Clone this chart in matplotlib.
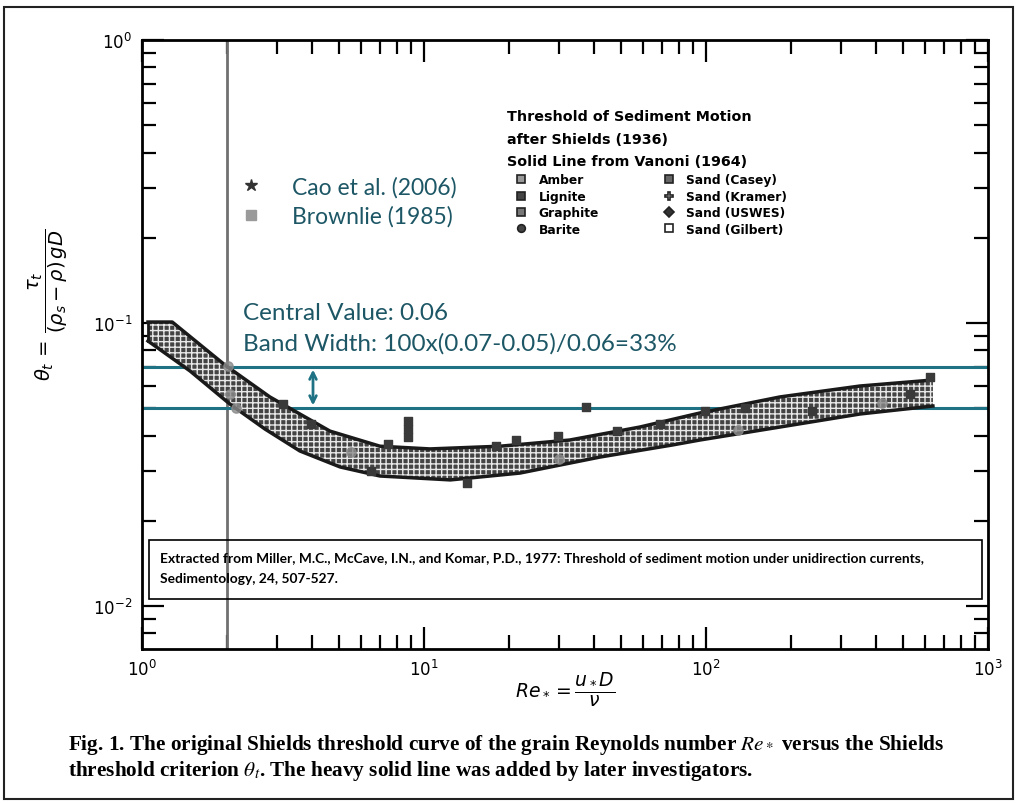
import numpy as np
import matplotlib.pyplot as plt
from matplotlib.patches import Rectangle
from matplotlib.lines import Line2D

# edges of the Shields band
re_up = [1.05, 1.28, 1.97, 2.84, 4.64, 6.98, 10.5, 18.6, 32.9, 58.3, 95.2, 183, 352, 638]
th_up = [0.1008, 0.1008, 0.0710, 0.0548, 0.0415, 0.0367, 0.0359, 0.0367, 0.0386, 0.0429, 0.0481, 0.0548, 0.0599, 0.0629]
re_lo = [1.05, 1.48, 2.05, 2.73, 3.63, 5.04, 6.98, 12.4, 21.9, 42.1, 76.4, 95.2, 183, 352, 638]
th_lo = [0.0864, 0.0677, 0.0517, 0.0422, 0.0353, 0.0310, 0.0288, 0.0279, 0.0295, 0.0336, 0.0371, 0.0386, 0.0429, 0.0477, 0.0509]

# Shields (1936) data points
re_pts = [3.16, 3.98, 7.45, 8.78, 8.78, 8.78, 6.49, 14.2, 18.0, 21.2, 29.9, 37.5, 48.3, 68.7, 99, 137, 238, 529, 623]
th_pts = [0.0517, 0.0440, 0.0374, 0.0451, 0.0422, 0.0395, 0.0300, 0.0272, 0.0367, 0.0386, 0.0399, 0.0505, 0.0415, 0.0440, 0.0489, 0.0500, 0.0489, 0.0561, 0.0645]

# Cao et al. / Brownlie points (grey)
re_grey = [2.02, 2.05, 2.15, 5.5, 30, 130, 420]
th_grey = [0.0703, 0.0561, 0.0500, 0.0350, 0.0330, 0.0420, 0.0520]

central_lo = 0.05
central_hi = 0.07
re_vline = 2.0
re_arrow = 4.04

shields_labels = ['Amber', 'Lignite', 'Graphite', 'Barite',
                  'Sand (Casey)', 'Sand (Kramer)', 'Sand (USWES)', 'Sand (Gilbert)']
shields_markers = ['s', 's', 's', 'o', 's', 'P', 'D', 's']
shields_faces = ['#999999', '#444444', '#777777', '#444444', '#666666', 'white', '#333333', 'white']

teal = '#1f7284'
teal_txt = '#1d5766'

fig = plt.figure(figsize=(10.18, 8.04), dpi=100)
ax = fig.add_axes([0.1395, 0.1915, 0.8310, 0.7575])
ax.set_xscale('log')
ax.set_yscale('log')
ax.set_xlim(1, 1000)
ax.set_ylim(10 ** -2.152, 1)

# band
bx = np.r_[re_up, re_lo[::-1]]
by = np.r_[th_up, th_lo[::-1]]
ax.fill(bx, by, facecolor='#444444', edgecolor='#e8e8e8', hatch='+++', lw=0, zorder=3)
ax.plot(re_up, th_up, color='#1a1a1a', lw=2.5, zorder=4)
ax.plot(re_lo, th_lo, color='#1a1a1a', lw=2.5, zorder=4)
ax.plot([re_up[0], re_lo[0]], [th_up[0], th_lo[0]], color='#1a1a1a', lw=2, zorder=4)

ax.scatter(re_pts, th_pts, marker='s', s=34, color='#3a3a3a', zorder=5)
ax.scatter(re_grey, th_grey, marker='o', s=45, color='#8a8a8a', alpha=0.8, zorder=5)

# added lines
ax.axvline(re_vline, color='#707070', lw=2, zorder=2)
ax.axhline(central_hi, color=teal, lw=2.2, zorder=2)
ax.axhline(central_lo, color=teal, lw=2.2, zorder=2)
ax.annotate('', xy=(re_arrow, central_lo), xytext=(re_arrow, central_hi),
            arrowprops=dict(arrowstyle='<->', color=teal, lw=2, mutation_scale=12), zorder=6)

ax.text(0.119, 0.553, 'Central Value: 0.06', transform=ax.transAxes, color=teal_txt,
        fontsize=17.5, family='Lato', va='center')
ax.text(0.119, 0.502, 'Band Width: 100x(0.07-0.05)/0.06=33%', transform=ax.transAxes,
        color=teal_txt, fontsize=17.5, family='Lato', va='center')

# Shields legend
handles = [Line2D([], [], ls='none', marker=m, mfc=f, mec='#222222', ms=5.5, mew=1.2)
           for m, f in zip(shields_markers, shields_faces)]
leg1 = ax.legend(handles, shields_labels, ncol=2, loc='upper left', bbox_to_anchor=(0.432, 0.886),
                 frameon=False, title='Threshold of Sediment Motion\nafter Shields (1936)\nSolid Line from Vanoni (1964)',
                 alignment='left', prop=dict(size=8.8, weight='bold'), handletextpad=0.35,
                 columnspacing=4.6, labelspacing=0.28, borderpad=0, borderaxespad=0,
                 handlelength=2.2)
leg1.get_title().set_fontsize(10.3)
leg1.get_title().set_fontweight('bold')
leg1.get_title().set_linespacing(1.75)
leg1._legend_box.sep = 4
ax.add_artist(leg1)

h2 = [Line2D([], [], ls='none', marker='*', color='#333333', ms=9),
      Line2D([], [], ls='none', marker='s', color='#9a9a9a', ms=7)]
ax.legend(h2, ['Cao et al. (2006)', 'Brownlie (1985)'], loc='upper left', bbox_to_anchor=(0.115, 0.777),
          frameon=False, prop=dict(family='Lato', size=16.5), labelcolor=teal_txt,
          handlelength=1.0, handletextpad=1.3, labelspacing=0.35, borderpad=0, borderaxespad=0)

# source box
ax.add_patch(Rectangle((0.008, 0.082), 0.985, 0.097, transform=ax.transAxes,
                       fill=False, lw=1.2, ec='black', zorder=6))
ax.text(0.021, 0.151, 'Extracted from Miller, M.C., McCave, I.N., and Komar, P.D., 1977: Threshold of sediment '
        'motion under unidirection currents,', transform=ax.transAxes, fontsize=9.9,
        family='Lato', weight='bold', va='center')
ax.text(0.021, 0.117, 'Sedimentology, 24, 507-527.', transform=ax.transAxes, fontsize=9.9,
        family='Lato', weight='bold', va='center')

for s in ax.spines.values():
    s.set_linewidth(2)
ax.tick_params(which='both', direction='in', top=True, right=True, width=1.6, labelsize=12)
ax.tick_params(which='major', length=16, pad=7)
ax.tick_params(which='minor', length=10)
ax.set_yticks([0.01, 0.1, 1])

fig.text(0.047, 1 - 305 / 804, r'$\theta_t\,=\,\dfrac{\tau_t}{(\rho_s-\rho)\,gD}$', rotation=90,
         fontsize=14, ha='center', va='center')
fig.text(565 / 1018, 1 - 690 / 804, r'$Re_* = \dfrac{u_* D}{\nu}$', fontsize=13.5,
         ha='center', va='center')

fig.text(68 / 1018, 1 - 745 / 804,
         r'Fig. 1. The original Shields threshold curve of the grain Reynolds number $Re_*$ versus the Shields',
         family='Liberation Serif', weight='bold', fontsize=15.3, va='center', math_fontfamily='stix')
fig.text(68 / 1018, 1 - 771 / 804,
         r'threshold criterion $\theta_t$. The heavy solid line was added by later investigators.',
         family='Liberation Serif', weight='bold', fontsize=15.3, va='center', math_fontfamily='stix')

fig.add_artist(Rectangle((0.004, 0.005), 0.991, 0.985, transform=fig.transFigure,
                         fill=False, lw=1.5, ec='#222222'))

fig.savefig('out.png', dpi=100)
